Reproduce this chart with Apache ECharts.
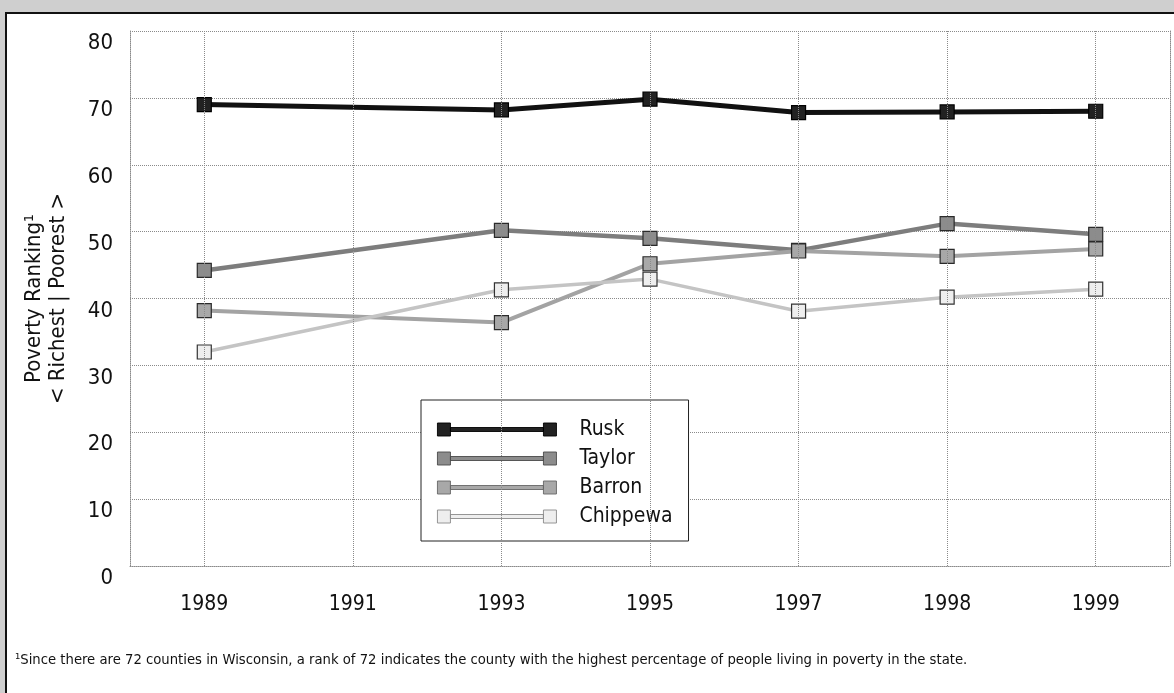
<!DOCTYPE html>
<html><head><meta charset="utf-8">
<script src="https://cdn.jsdelivr.net/npm/echarts@6/dist/echarts.min.js"></script>
<style>html,body{margin:0;padding:0;background:#fff}#c{width:1174px;height:693px}</style>
</head><body><div id="c"></div>
<script>
const years = ['1989', '1991', '1993', '1995', '1997', '1998', '1999'];
const seriesNames = ['Rusk', 'Taylor', 'Barron', 'Chippewa'];
const rusk     = [69.0, null, 68.2, 69.8, 67.8, 67.9, 68.0];
const taylor   = [44.2, null, 50.2, 49.0, 47.2, 51.2, 49.6];
const barron   = [38.2, null, 36.4, 45.2, 47.1, 46.3, 47.4];
const chippewa = [32.0, null, 41.3, 42.9, 38.1, 40.2, 41.4];
const yMin = 0, yMax = 80, yStep = 10;
const yTitle = 'Poverty Ranking¹\n< Richest | Poorest >';
const footnote = '¹Since there are 72 counties in Wisconsin, a rank of 72 indicates the county with the highest percentage of people living in poverty in the state.';

const NARROW = "'Liberation Sans Narrow','Arial Narrow','DejaVu Sans Condensed',sans-serif";
const styles = {
  Rusk:     {line: '#111111', fill: '#222222', border: '#000000', legendBorder: '#000000', w: 5},
  Taylor:   {line: '#7d7d7d', fill: '#8c8c8c', border: '#2a2a2a', legendBorder: '#4a4a4a', w: 4.5},
  Barron:   {line: '#a3a3a3', fill: '#a8a8a8', border: '#2a2a2a', legendBorder: '#666666', w: 4},
  Chippewa: {line: '#c4c4c4', fill: '#eeeeee', border: '#333333', legendBorder: '#8a8a8a', w: 3.5}
};
const values = {Rusk: rusk, Taylor: taylor, Barron: barron, Chippewa: chippewa};

const dotted = {type: 'dotted', color: '#8a8a8a', width: 1};

const series = seriesNames.map(n => ({
  name: n, type: 'line', data: values[n], connectNulls: true,
  symbol: 'rect', symbolSize: 14, z: 3,
  lineStyle: {color: styles[n].line, width: styles[n].w},
  itemStyle: {color: styles[n].fill, borderColor: styles[n].border, borderWidth: 1.2}
}));
series.unshift({
  name: 'grid-verticals', type: 'line', data: [], z: 1, silent: true,
  markLine: {
    silent: true, symbol: 'none', animation: false,
    label: {show: false},
    lineStyle: dotted,
    data: years.map(y => ({xAxis: y}))
  }
});

const chart = echarts.init(document.getElementById('c'), null, {renderer: 'canvas'});
chart.setOption({
  animation: false,
  backgroundColor: '#ffffff',
  textStyle: {fontFamily: NARROW},
  title: {
    text: footnote, left: 10, top: 648,
    textStyle: {fontSize: 14.7, fontWeight: 'normal', color: '#111', fontFamily: NARROW}
  },
  graphic: [
    {type: 'rect', left: 0, top: 0, shape: {width: 1174, height: 12}, style: {fill: '#cfcfcf'}, silent: true},
    {type: 'rect', left: 0, top: 0, shape: {width: 5, height: 693}, style: {fill: '#cfcfcf'}, silent: true},
    {type: 'rect', left: 5, top: 12, shape: {width: 1169, height: 2}, style: {fill: '#111'}, silent: true},
    {type: 'rect', left: 5, top: 12, shape: {width: 2, height: 681}, style: {fill: '#111'}, silent: true}
  ],
  legend: {
    data: seriesNames.map(n => ({name: n, itemStyle: {color: styles[n].fill, borderColor: styles[n].legendBorder, borderWidth: 0.9}})),
    orient: 'vertical', left: 421, top: 400,
    padding: [19, 16, 14, 16],
    itemGap: 8,
    itemWidth: 119, itemHeight: 13,
    icon: 'path://M0,0h13v13h-13z M13,4.5h93v4h-93z M106,0h13v13h-13z',
    backgroundColor: '#fff', borderColor: '#222', borderWidth: 1,
    textStyle: {fontSize: 21, color: '#111', fontFamily: NARROW, padding: [0, 0, 0, 18]}
  },
  grid: {left: 130, right: 4, top: 31, bottom: 127},
  xAxis: {
    type: 'category', data: years, boundaryGap: true,
    axisLine: {show: true, lineStyle: dotted},
    axisTick: {show: false},
    splitLine: {show: false},
    axisLabel: {fontSize: 21, color: '#111', margin: 28, fontFamily: NARROW}
  },
  yAxis: [{
    type: 'value', min: yMin, max: yMax, interval: yStep,
    name: yTitle, nameLocation: 'middle', nameGap: 60,
    nameTextStyle: {fontSize: 22, color: '#111', lineHeight: 24, fontFamily: NARROW},
    axisLine: {show: true, lineStyle: dotted},
    axisTick: {show: false},
    splitLine: {show: true, lineStyle: dotted},
    axisLabel: {fontSize: 22, color: '#111', margin: 17, verticalAlign: 'top', lineHeight: 25, fontFamily: NARROW}
  }, {
    type: 'value', min: yMin, max: yMax, interval: yStep, position: 'right',
    axisLine: {show: true, lineStyle: dotted},
    axisTick: {show: false}, axisLabel: {show: false}, splitLine: {show: false}
  }],
  series: series
});
</script></body></html>
